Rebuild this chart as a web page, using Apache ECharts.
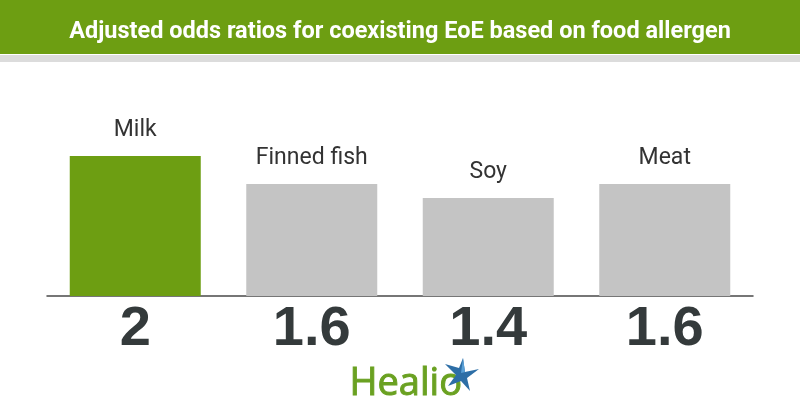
<!DOCTYPE html>
<html><head><meta charset="utf-8">
<script src="https://cdn.jsdelivr.net/npm/echarts@6/dist/echarts.min.js"></script>
<style>html,body{margin:0;padding:0;background:#fff}#c{width:800px;height:420px}</style>
</head><body><div id="c"></div>
<script>
const titleText = "Adjusted odds ratios for coexisting EoE based on food allergen";
const categories = ["Milk", "Finned fish", "Soy", "Meat"];
const values = [2, 1.6, 1.4, 1.6];
const valueLabels = ["2", "1.6", "1.4", "1.6"];
const highlightIndex = 0;

const GREEN = "#6d9e12";
const GRAY = "#c4c4c4";

const chart = echarts.init(document.getElementById('c'));
chart.setOption({
  animation: false,
  backgroundColor: "#fff",
  graphic: [
    {type:'rect', shape:{x:0,y:0,width:800,height:54}, style:{fill:GREEN}, z:0},
    {type:'rect', shape:{x:0,y:55,width:800,height:7}, style:{fill:"#dcdcdc"}, z:0},
    {type:'text', left:'center', top:20, style:{text:titleText, fill:"#fff", font:"bold 23.5px 'Liberation Sans Narrow', 'Roboto', sans-serif"}, z:5},
    {type:'text', left:349, top:365, style:{text:"Healio", fill:"#6aa121", stroke:"#6aa121", lineWidth:1, font:"38px 'Open Sans', 'Lato', sans-serif"}, z:5},
    {type:'polygon', shape:{points:[[463,358],[465,372],[479,369],[467,378],[470,391],[461,381],[448,386],[456,375],[445,364],[459,368]]}, style:{fill:"#2d6ea6"}, z:5},
    {type:'polygon', shape:{points:[[463,358],[465,372],[479,369],[461,373]]}, style:{fill:"#5aa0d6"}, z:6}
  ],
  grid: {left: 47, right: 47, top: 86, height: 210, containLabel: false},
  xAxis: {
    type: 'category', data: categories,
    axisLine: {show: true, lineStyle: {color: "#4a4a4a", width: 1.5}},
    axisTick: {show: false},
    axisLabel: {
      show: true, margin: 6,
      formatter: (v, i) => valueLabels[i],
      color: "#343a3b", fontSize: 56, fontWeight: 'bold', fontFamily: "'Liberation Sans', Arial, sans-serif"
    }
  },
  yAxis: {type: 'value', min: 0, max: 3, show: false, splitLine: {show: false}},
  series: [{
    type: 'bar', barWidth: 131,
    data: values.map((v, i) => ({value: v, itemStyle: {color: i === highlightIndex ? GREEN : GRAY}})),
    label: {
      show: true, position: 'top', distance: 14,
      formatter: p => categories[p.dataIndex],
      color: "#333", fontSize: 23, fontFamily: "Roboto, sans-serif"
    }
  }]
});
</script></body></html>
